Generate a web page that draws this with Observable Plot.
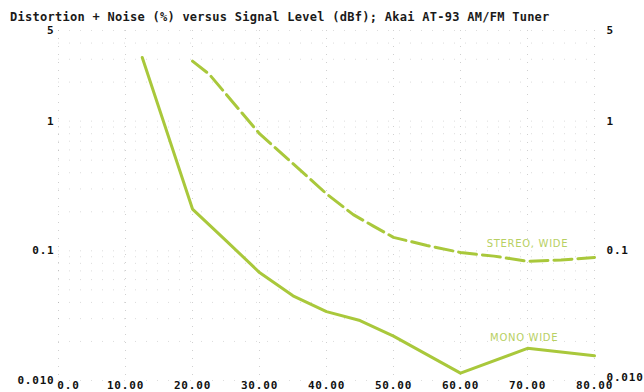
<!DOCTYPE html>
<html>
<head>
<meta charset="utf-8">
<script src="https://cdn.jsdelivr.net/npm/d3@7"></script>
<script src="https://cdn.jsdelivr.net/npm/@observablehq/plot@0.6"></script>
<style>
  html, body { margin: 0; padding: 0; background: #fff; }
  #wrap { width: 644px; height: 392px; overflow: hidden; background: #fff; }
  #title {
    height: 24px; box-sizing: border-box; padding: 11px 0 0 10px;
    line-height: 13px; font-family: "DejaVu Sans Mono", monospace; font-weight: bold;
    font-size: 12px; letter-spacing: 0.27px; color: #1a1a1a; white-space: nowrap;
  }
  svg { display: block; }
</style>
</head>
<body>
<div id="wrap">
  <div id="title">Distortion + Noise (%) versus Signal Level (dBf); Akai AT-93 AM/FM Tuner</div>
  <div id="chart"></div>
</div>
<script>
// Signal level (dBf) and distortion + noise (%)
const monoLevel = [12.5, 20, 25, 30, 35, 40, 45, 50, 60, 70, 80];
const monoTHD   = [3.1, 0.21, 0.12, 0.068, 0.045, 0.034, 0.029, 0.022, 0.0114, 0.0177, 0.0155];

const stereoLevel = [20, 22.5, 30, 35, 40, 44, 47, 50, 55, 60, 65, 70, 75, 80];
const stereoTHD   = [2.9, 2.3, 0.8, 0.47, 0.275, 0.19, 0.155, 0.127, 0.11, 0.097, 0.091, 0.083, 0.085, 0.089];

const xTicks = [0, 10, 20, 30, 40, 50, 60, 70, 80];
const xTickLabels = ["0.0", "10.00", "20.00", "30.00", "40.00", "50.00", "60.00", "70.00", "80.00"];
const yTicks = [5, 1, 0.1, 0.01];
const yTickLabels = ["5", "1", "0.1", "0.010"];

const curveNames = ["STEREO, WIDE", "MONO WIDE"];
const curveNameLevel = [70, 69.5];
const curveNameTHD = [0.114, 0.0215];

// build tables
const mono = monoLevel.map((x, i) => ({x, y: monoTHD[i]}));
const stereo = stereoLevel.map((x, i) => ({x, y: stereoTHD[i]}));
const names = curveNames.map((t, i) => ({t, x: curveNameLevel[i], y: curveNameTHD[i]}));
const xLab = new Map(xTicks.map((d, i) => [d, xTickLabels[i]]));
const yRows = yTicks.map((v, i) => ({v, t: yTickLabels[i]}));
const gridYVals = [];
for (const dec of [0.01, 0.1, 1]) for (let k = 1; k <= 9; k++) { const v = +(dec * k).toPrecision(3); if (v <= 5) gridYVals.push(v); }

const green = "#a9c83b";
const axisStyle = {tickSize: 0, label: null, fill: "#111", fontWeight: "bold"};
const lab = {fill: "#111", fontWeight: "bold", fontSize: 11, fontFamily: "DejaVu Sans Mono"};

const chart = Plot.plot({
  width: 644, height: 368,
  marginTop: 6, marginBottom: 12, marginLeft: 58, marginRight: 50,
  style: {fontFamily: "DejaVu Sans Mono", fontSize: "11px", letterSpacing: "0.8px", background: "#fff", overflow: "visible"},
  x: {domain: [0, 80]},
  y: {type: "log", domain: [0.01, 5], axis: null},
  marks: [
    Plot.gridX(xTicks, {stroke: "#777", strokeOpacity: 0.35, strokeDasharray: "1,7"}),
    Plot.gridY(gridYVals, {stroke: "#777", strokeOpacity: 0.25, strokeDasharray: "1,10"}),
    Plot.line(mono, {x: "x", y: "y", stroke: green, strokeWidth: 3, strokeLinejoin: "round"}),
    Plot.line(stereo, {x: "x", y: "y", stroke: green, strokeWidth: 3, strokeDasharray: "18,6", strokeLinejoin: "round"}),
    Plot.text(names, {x: "x", y: "y", text: "t", fill: "#b7d063", fontFamily: "DejaVu Sans", fontSize: 10}),
    Plot.axisX(xTicks.filter(d => d !== 0), {...axisStyle, anchor: "bottom", tickPadding: 1, tickFormat: d => xLab.get(d)}),
    Plot.axisX([0], {...axisStyle, anchor: "bottom", tickPadding: 1, dx: 10, tickFormat: d => xLab.get(d)}),
    // left y labels
    Plot.text(yRows, {...lab, x: () => 0, y: "v", text: "t", textAnchor: "end", dx: -4}),
    // right y labels
    Plot.text(yRows.filter(d => d.v !== 0.01), {...lab, x: () => 80, y: "v", text: "t", textAnchor: "start", dx: 12}),
    Plot.text(yRows.filter(d => d.v === 0.01), {...lab, x: () => 80, y: "v", text: "t", textAnchor: "start", dx: 12, dy: -3})
  ]
});
document.getElementById("chart").appendChild(chart);
d3.select(chart).selectAll("text")
  .filter(function() { return curveNames.includes(this.textContent); })
  .attr("letter-spacing", "0.7");
</script>
</body>
</html>
